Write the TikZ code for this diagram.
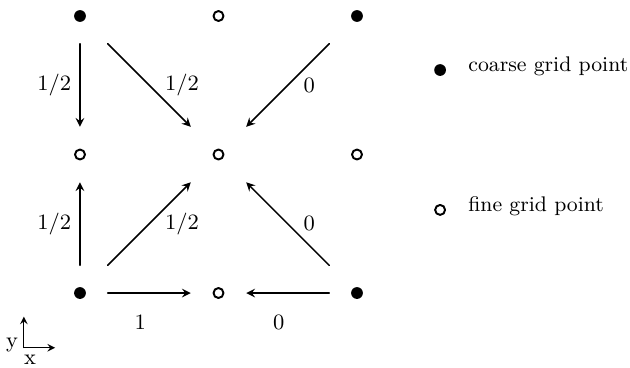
\documentclass[tikz,border=0pt]{standalone}
\tikzset{
	coarse/.style={rectangle, minimum size=7.8mm, inner sep=0pt,
		path picture={\fill (path picture bounding box.center) circle (0.85mm);}},
	fine/.style={rectangle, minimum size=7.8mm, inner sep=0pt,
		path picture={\draw[line width=0.8pt] (path picture bounding box.center) circle (0.72mm);}},
	keytext/.style={right, font=\fontsize{8.7}{10}\selectfont},
}
\begin{document}
\begin{tikzpicture}[scale=1,>=stealth, font=\small, line join=round, line cap=round, line width=0.6pt]
				\useasboundingbox (-1.155,-1.069) rectangle (7.942,4.231);
				\path (0,0) node[coarse](bl){} (2,0) node[fine](bm){} (4,0) node[coarse](br){};
				\path (0,2) node[fine](ml){} (2,2) node[fine](mm){} (4,2) node[fine](mr){};
				\path (0,4) node[coarse](tl){} (2,4) node[fine](tm){} (4,4) node[coarse](tr){};
				\draw [->] (tl)--(ml) node[midway,left](w1){$1/2$};
				\draw [->] (tl)--(mm) node[midway,right=1mm](w2){$1/2$};
				\draw [->] (tr)--(mm) node[midway,right=1mm](w3){$0$};
				\draw [->] (bl)--(ml) node[midway,left](w4){$1/2$};
				\draw [->] (bl)--(mm) node[midway,right=1mm](w5){$1/2$};
				\draw [->] (br)--(mm) node[midway,right=1mm](w6){$0$};
				\draw [->] (bl)--(bm) node[midway,below=2mm,xshift=-1.3mm](w7){$1$};
				\draw [->] (br)--(bm) node[midway,below=2mm,xshift=-1.3mm](w8){$0$};
				% legend
				\path (5.2,3.22) node[coarse](keyc){} (5.48,3.27) node[keytext](keyctxt){coarse grid point};
				\path (5.2,1.20) node[fine](keyf){} (5.48,1.26) node[keytext](keyftxt){fine grid point};
				% axes
				\coordinate (ax0) at (-0.81,-0.79);
				\coordinate (axx) at (-0.36,-0.79);
				\coordinate (axy) at (-0.81,-0.34);
				\draw [->, line width=0.4pt] (ax0)--(axx);
				\draw [->, line width=0.4pt] (ax0)--(axy);
				\path (-0.98,-0.75) node(ylab){y} (-0.72,-0.97) node(xlab){x};
			\end{tikzpicture}
\end{document}
